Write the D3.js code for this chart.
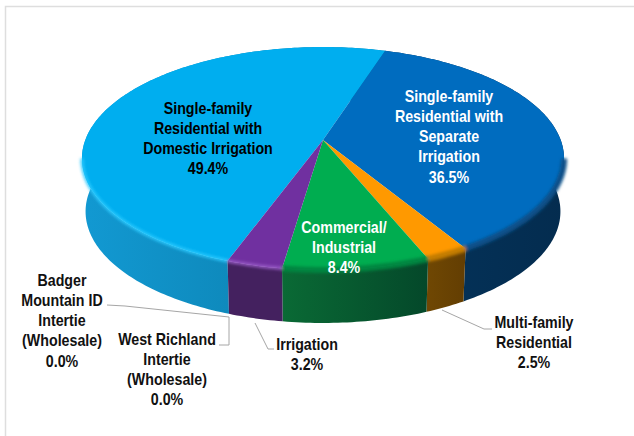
<!DOCTYPE html>
<html>
<head>
<meta charset="utf-8">
<script src="https://cdn.jsdelivr.net/npm/d3@7"></script>
<style>
html, body { margin: 0; padding: 0; background: #fff; }
svg { display: block; }
text { font-family: "Liberation Sans", Arial, sans-serif; font-weight: bold; font-size: 16px; text-anchor: middle; }
</style>
</head>
<body>
<svg id="chart" width="634" height="436"></svg>
<script>
var categories = ['Single-family Residential with Domestic Irrigation', 'Single-family Residential with Separate Irrigation', 'Multi-family Residential', 'Commercial/ Industrial', 'Irrigation', 'West Richland Intertie (Wholesale)', 'Badger Mountain ID Intertie (Wholesale)'];
var labelLines = [
    ['Single-family', 'Residential with', 'Domestic Irrigation'],
    ['Single-family', 'Residential with', 'Separate', 'Irrigation'],
    ['Multi-family', 'Residential'],
    ['Commercial/', 'Industrial'],
    ['Irrigation'],
    ['West Richland', 'Intertie', '(Wholesale)'],
    ['Badger', 'Mountain ID', 'Intertie', '(Wholesale)']
];
var values = [49.4, 36.5, 2.5, 8.4, 3.2, 0.0, 0.0];
var topColors = ['#00aeef', '#006cbf', '#ff9900', '#00ad50', '#7030a0', '#7030a0', '#7030a0'];
var wallLeft = ['#1299d2', '#04345c', '#6f4703', '#0a6a35', '#44215f', '#44215f', '#44215f'];
var wallRight = ['#0a7aa6', '#042c4f', '#633e02', '#04482a', '#44215f', '#44215f', '#44215f'];
var bevelColors = ['#2ccaff', '#0a4f88', '#c27c00', '#06853f', '#9a5cc8', '#9a5cc8', '#9a5cc8'];
var bevelWidths = [3, 6, 6, 6, 3, 3, 3];
var textColors = ['#000', '#fff', '#111', '#fff', '#111', '#111', '#111'];
var labelX = [208, 449, 534, 344, 307, 167, 62];
var labelY = [113.5, 101.5, 327.5, 232.5, 349.5, 344.5, 285.5];

// leader lines: [pie side, elbow, label end]
var leaders = [
    [[442, 310], [484, 329], [492, 329]],
    [[255, 323], [268, 349], [274, 349]],
    [[229, 317], [229, 345], [219, 345]],
    [[229, 317], [125, 306], [107, 305]]
];

// perspective pie: disc is foreshortened around the apex
var apexX = 323, apexY = 140;
var k = 0.166, b = 108.4, a = 237.7;
var depth = 53, wallShrink = 0.985;

function project(angle) {
    var u = Math.sin(angle), v = -Math.cos(angle);
    var s = 1 - k * v;
    return [apexX + a * u / s, apexY + b * v / s];
}
function projectBottom(angle) {
    var p = project(angle);
    return [apexX + (p[0] - apexX) * wallShrink, p[1] + depth];
}
function sampleRange(start, end) {
    var n = Math.max(2, Math.ceil((end - start) * 60));
    return d3.range(n + 1).map(function (i) { return start + (end - start) * i / n; });
}
function samples(d) {
    return sampleRange(d.startAngle, d.endAngle);
}

var rad = Math.PI / 180;
var pie = d3.pie().sort(null).value(function (d) { return d; }).startAngle(199.8 * rad).endAngle(559.8 * rad);
var arcs = pie(values);
var line = d3.line();

// the bevel only shows on the front of the rim, between the two side tangents
var frontStart = Math.acos(-k), frontEnd = 2 * Math.PI - frontStart;
function frontSamples(d) {
    var shift = d.startAngle >= 2 * Math.PI ? 2 * Math.PI : 0;
    var start = Math.max(d.startAngle, frontStart + shift);
    var end = Math.min(d.endAngle, frontEnd + shift);
    return end > start ? sampleRange(start, end) : [];
}

var svg = d3.select('#chart');
var defs = svg.append('defs');
var blur = defs.append('filter').attr('id', 'soft').attr('x', '-10%').attr('y', '-10%').attr('width', '120%').attr('height', '120%');
blur.append('feGaussianBlur').attr('stdDeviation', 1.4);

// frame, only top and left are in the picture
svg.append('path').attr('d', 'M5.5,436V6.5H634').attr('fill', 'none').attr('stroke', '#dedede').attr('stroke-width', 1.5);

arcs.forEach(function (d, i) {
    var xs = samples(d).map(project).map(function (p) { return p[0]; });
    var grad = defs.append('linearGradient').attr('id', 'wall' + i).attr('gradientUnits', 'userSpaceOnUse')
        .attr('x1', d3.min(xs)).attr('x2', d3.max(xs)).attr('y1', 0).attr('y2', 0);
    grad.append('stop').attr('offset', 0).attr('stop-color', wallLeft[i]);
    grad.append('stop').attr('offset', 1).attr('stop-color', wallRight[i]);
});

// side walls first, the top covers the back ones
svg.append('g').selectAll('path').data(arcs).join('path')
    .attr('d', function (d) {
        var ang = samples(d);
        return line(ang.map(project).concat(ang.slice().reverse().map(projectBottom))) + 'Z';
    })
    .attr('fill', function (d, i) { return 'url(#wall' + i + ')'; });

// top face
svg.append('g').selectAll('path').data(arcs).join('path')
    .attr('d', function (d) {
        return line([[apexX, apexY]].concat(samples(d).map(project))) + 'Z';
    })
    .attr('fill', function (d, i) { return topColors[i]; });

// soft bevel along the rim
svg.append('g').attr('filter', 'url(#soft)').selectAll('path').data(arcs).join('path')
    .attr('d', function (d) { return line(frontSamples(d).map(project)); })
    .attr('fill', 'none')
    .attr('stroke-width', function (d, i) { return bevelWidths[i]; })
    .attr('stroke', function (d, i) { return bevelColors[i]; });

// leader lines
svg.append('g').selectAll('path').data(leaders).join('path')
    .attr('d', line)
    .attr('fill', 'none')
    .attr('stroke', '#a6a6a6')
    .attr('stroke-width', 1);

// labels, the font in the picture is squeezed horizontally
var lineStep = 20.3;
var label = svg.append('g').selectAll('text').data(arcs).join('text')
    .attr('fill', function (d, i) { return textColors[i]; })
    .attr('transform', function (d, i) { return 'translate(' + labelX[i] + ',' + labelY[i] + ') scale(0.89,1)'; });
label.selectAll('tspan')
    .data(function (d, i) { return labelLines[i].concat(d.value.toFixed(1) + '%'); })
    .join('tspan')
    .attr('x', 0)
    .attr('y', function (d, i) { return i * lineStep; })
    .text(function (d) { return d; });
</script>
</body>
</html>
